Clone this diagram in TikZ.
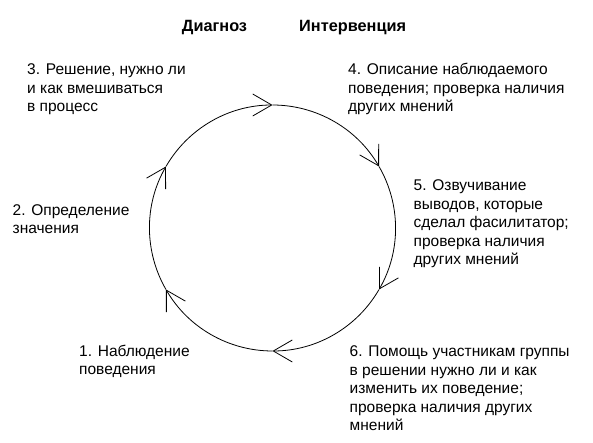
\documentclass[tikz,border=0pt]{standalone}
\usepackage{fontspec}
\setmainfont{Liberation Sans}
\usetikzlibrary{arrows.meta}

\begin{document}
\begin{tikzpicture}[x=1pt, y=1pt,
		lbl/.style = {anchor=base west, align=left, inner sep=0pt, font=\fontsize{15.5}{18.5}\selectfont},
		hdr/.style = {anchor=base, inner sep=0pt, font=\fontsize{16.3}{18}\selectfont\bfseries},
		cyc/.style = {line width=0.8pt, -{Straight Barb[length=19pt, width=22pt, line width=0.8pt]}}]
	\useasboundingbox ( 0, 0 ) rectangle ( 593, 443 );

	% заголовки
	\node [hdr] (diag) at ( 214.5, 411 ) {Диагноз};
	\node [hdr, anchor=base west] (intv) at ( 299, 411 ) {Интервенция};

	% точки на окружности
	\coordinate (c) at ( 272.5, 215 );
	\path (c) ++( 270:123pt ) coordinate (a270);
	\path (c) ++( 210:123pt ) coordinate (a210);
	\path (c) ++( 150:123pt ) coordinate (a150);
	\path (c) ++( 90:123pt ) coordinate (a90);
	\path (c) ++( 30:123pt ) coordinate (a30);
	\path (c) ++( -30:123pt ) coordinate (a330);

	% цикл
	\draw [cyc] (a270) arc [start angle=270, end angle=210, radius=123pt];
	\draw [cyc] (a210) arc [start angle=210, end angle=150, radius=123pt];
	\draw [cyc] (a150) arc [start angle=150, end angle=90, radius=123pt];
	\draw [cyc] (a90) arc [start angle=90, end angle=30, radius=123pt];
	\draw [cyc] (a30) arc [start angle=30, end angle=-30, radius=123pt];
	\draw [cyc] (a330) arc [start angle=-30, end angle=-90, radius=123pt];

	% этапы (base = последняя строка)
	\node [lbl] (s1) at ( 79, 68 ) {1. Наблюдение\\поведения};
	\node [lbl] (s2) at ( 12.5, 209 ) {2. Определение\\значения};
	\node [lbl] (s3) at ( 27, 331.3 ) {3. Решение, нужно ли\\и как вмешиваться\\в процесс};
	\node [lbl] (s4) at ( 348, 331 ) {4. Описание наблюдаемого\\поведения; проверка наличия\\других мнений};
	\node [lbl] (s5) at ( 413.5, 178 ) {5. Озвучивание\\выводов, которые\\сделал фасилитатор;\\проверка наличия\\других мнений};
	\node [lbl] (s6) at ( 349.5, 12 ) {6. Помощь участникам группы\\в решении нужно ли и как\\изменить их поведение;\\проверка наличия других\\мнений};
\end{tikzpicture}
\end{document}
